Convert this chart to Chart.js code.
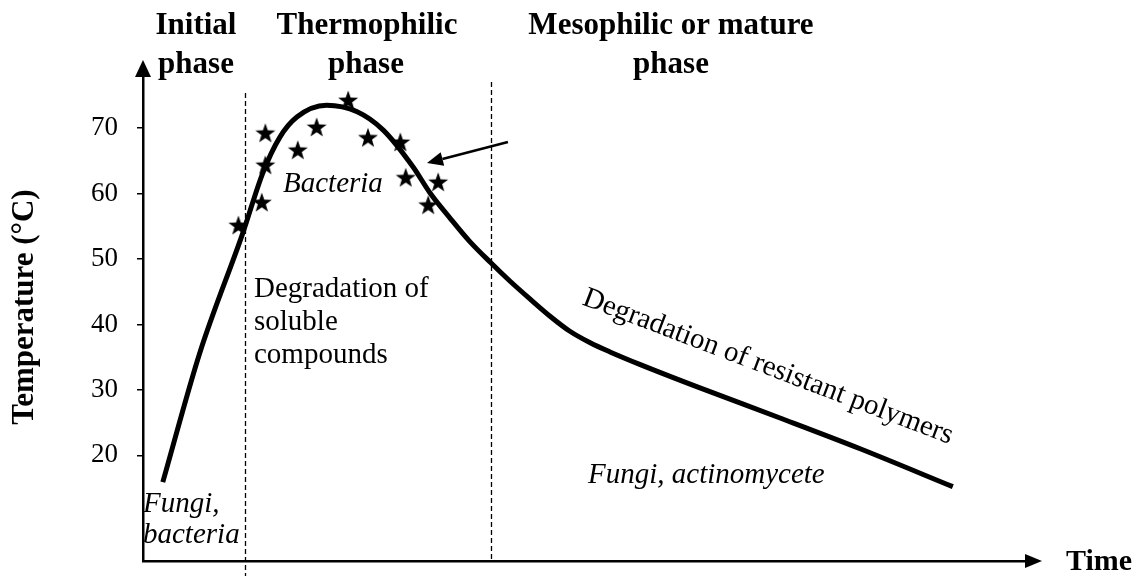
<!DOCTYPE html>
<html><head><meta charset="utf-8">
<style>html,body{margin:0;padding:0;background:#fff;}#wrap{width:1136px;height:576px;}</style>
<script src="https://cdn.jsdelivr.net/npm/chart.js@4.4.1/dist/chart.umd.min.js"></script>
</head><body><div id="wrap"><canvas id="c" width="1136" height="576"></canvas></div>
<script>
// Composting temperature curve (time in arbitrary units, temperature in °C)
const curveTime = [2.2, 6.3, 11.1, 13.3, 15.2, 17.1, 20.4, 23.8, 26.7, 30.0, 31.9, 34.1, 36.3, 38.6, 40.8, 43.0, 45.2, 47.4, 49.7, 51.9, 55.2, 61.9, 70.8, 79.7, 90.0];
const curveTemp = [15.9, 35.6, 54.0, 63.1, 68.6, 71.7, 73.5, 72.5, 69.7, 64.1, 60.1, 56.3, 52.7, 49.5, 46.6, 43.9, 41.3, 39.0, 37.2, 35.8, 33.9, 30.3, 25.7, 21.0, 15.2];
// Star markers (bacteria)
const starTime = [10.6, 13.6, 13.6, 13.2, 17.2, 19.3, 22.8, 25.0, 28.6, 29.2, 32.8, 31.7];
const starTemp = [55.2, 69.3, 64.4, 58.7, 66.7, 70.2, 74.3, 68.6, 67.9, 62.5, 61.8, 58.3];
// Axis ticks
const yTickValues = [20, 30, 40, 50, 60, 70];
// Phase boundaries (time)
const phaseBoundaries = [11.33, 38.67];
// Pointer arrow: tail -> tip (time, temp)
const arrowFrom = [40.56, 67.9];
const arrowTo = [31.56, 64.67];

const SERIF = '"Liberation Serif", "Times New Roman", serif';

function makeStar() {
  const c = document.createElement('canvas');
  const s = 24; c.width = s; c.height = s;
  const g = c.getContext('2d');
  g.fillStyle = '#000';
  g.beginPath();
  const R = 10.5, r = 4.2, cx = s / 2, cy = s / 2 + 1;
  for (let i = 0; i < 10; i++) {
    const ang = -Math.PI / 2 + i * Math.PI / 5;
    const rad = i % 2 ? r : R;
    g.lineTo(cx + rad * Math.cos(ang), cy + rad * Math.sin(ang));
  }
  g.closePath(); g.fill();
  return c;
}
const starImg = makeStar();

function txt(ctx, s, x, y, font, align, baseline) {
  ctx.font = font; ctx.textAlign = align || 'left'; ctx.textBaseline = baseline || 'alphabetic';
  ctx.fillStyle = '#000'; ctx.fillText(s, x, y);
}

const deco = {
  id: 'deco',
  beforeDatasetsDraw(chart) {
    const {ctx, chartArea: a, scales: {x, y}} = chart;
    ctx.save();
    ctx.strokeStyle = '#000'; ctx.lineWidth = 1.3; ctx.setLineDash([5, 3]);
    const tops = [93, 82], bottoms = [576, a.bottom];
    phaseBoundaries.forEach((v, i) => {
      const px = Math.round(x.getPixelForValue(v)) + 0.5;
      ctx.beginPath(); ctx.moveTo(px, tops[i]); ctx.lineTo(px, bottoms[i]); ctx.stroke();
    });
    ctx.setLineDash([]);
    const reg = '29px ' + SERIF, ita = 'italic 29px ' + SERIF, bold = 'bold 31px ' + SERIF;
    // headings
    txt(ctx, 'Initial', 196, 34, bold, 'center');
    txt(ctx, 'phase', 196, 73, bold, 'center');
    txt(ctx, 'Thermophilic', 367, 34, bold, 'center');
    txt(ctx, 'phase', 366, 73, bold, 'center');
    txt(ctx, 'Mesophilic or mature', 671, 34, bold, 'center');
    txt(ctx, 'phase', 671, 73, bold, 'center');
    // y-axis title
    ctx.save();
    ctx.translate(25, 307); ctx.rotate(-Math.PI / 2);
    txt(ctx, 'Temperature (°C)', 0, 0, bold, 'center', 'middle');
    ctx.restore();
    // in-plot labels
    txt(ctx, 'Bacteria', 283, 192, ita, 'left');
    txt(ctx, 'Degradation of', 254, 297, reg, 'left');
    txt(ctx, 'soluble', 254, 330, reg, 'left');
    txt(ctx, 'compounds', 254, 363, reg, 'left');
    txt(ctx, 'Fungi,', 143, 512, ita, 'left');
    txt(ctx, 'bacteria', 143, 543, ita, 'left');
    txt(ctx, 'Fungi, actinomycete', 588, 483, ita, 'left');
    ctx.save();
    ctx.translate(768, 367); ctx.rotate(20.8 * Math.PI / 180);
    txt(ctx, 'Degradation of resistant polymers', 0, 0, reg, 'center', 'middle');
    ctx.restore();
    txt(ctx, 'Time', 1066, 562, 'bold 30px ' + SERIF, 'left', 'middle');
    ctx.restore();
  },
  afterDraw(chart) {
    const {ctx, chartArea: a, scales: {x, y}} = chart;
    ctx.save();
    ctx.fillStyle = '#000'; ctx.strokeStyle = '#000';
    // y axis arrowhead
    const ax = a.left, tipY = a.top - 8;
    ctx.beginPath(); ctx.moveTo(ax, tipY); ctx.lineTo(ax - 8, tipY + 17); ctx.lineTo(ax + 8, tipY + 17); ctx.closePath(); ctx.fill();
    // x axis arrowhead
    const ay = a.bottom, tipX = a.right + 10;
    ctx.beginPath(); ctx.moveTo(tipX, ay); ctx.lineTo(tipX - 17, ay - 7); ctx.lineTo(tipX - 17, ay + 7); ctx.closePath(); ctx.fill();
    // pointer arrow
    const x0 = x.getPixelForValue(arrowFrom[0]), y0 = y.getPixelForValue(arrowFrom[1]);
    const x1 = x.getPixelForValue(arrowTo[0]), y1 = y.getPixelForValue(arrowTo[1]);
    const ang = Math.atan2(y1 - y0, x1 - x0);
    const hl = 16, hw = 7;
    const bx = x1 - hl * Math.cos(ang), by = y1 - hl * Math.sin(ang);
    ctx.lineWidth = 2.5;
    ctx.beginPath(); ctx.moveTo(x0, y0); ctx.lineTo(bx, by); ctx.stroke();
    ctx.beginPath(); ctx.moveTo(x1, y1);
    ctx.lineTo(bx + hw * Math.sin(ang), by - hw * Math.cos(ang));
    ctx.lineTo(bx - hw * Math.sin(ang), by + hw * Math.cos(ang));
    ctx.closePath(); ctx.fill();
    ctx.restore();
  }
};

new Chart(document.getElementById('c'), {
  type: 'scatter',
  data: {
    datasets: [
      {
        type: 'line',
        data: curveTime.map((t, i) => ({x: t, y: curveTemp[i]})),
        borderColor: '#000', borderWidth: 5, pointRadius: 0,
        cubicInterpolationMode: 'monotone', fill: false, order: 1
      },
      {
        type: 'scatter',
        data: starTime.map((t, i) => ({x: t, y: starTemp[i]})),
        pointStyle: starImg, pointRadius: 10, order: 0
      }
    ]
  },
  options: {
    responsive: false, animation: false, events: [],
    layout: {padding: {left: 0, top: 68, right: 104, bottom: 0}},
    plugins: {legend: {display: false}, tooltip: {enabled: false}},
    scales: {
      x: {
        type: 'linear', min: 0, max: 98.8,
        ticks: {display: false},
        grid: {display: true, drawOnChartArea: false, drawTicks: false, color: 'rgba(0,0,0,0)'},
        border: {display: true, color: '#000', width: 2.5},
        afterFit(s) { s.height = 15; s.paddingLeft = 0; s.paddingRight = 0; }
      },
      y: {
        type: 'linear', min: 3.84, max: 79.2,
        afterBuildTicks(s) { s.ticks = yTickValues.map(v => ({value: v})); },
        ticks: {color: '#000', font: {family: SERIF, size: 27}, padding: 19},
        grid: {drawOnChartArea: false, drawTicks: true, tickLength: 6, color: '#000', lineWidth: 1.5},
        border: {display: true, color: '#000', width: 2.5},
        title: {display: false},
        afterFit(s) { s.width = 143; s.paddingTop = 0; s.paddingBottom = 0; }
      }
    }
  },
  plugins: [deco]
});
</script>
</body></html>
